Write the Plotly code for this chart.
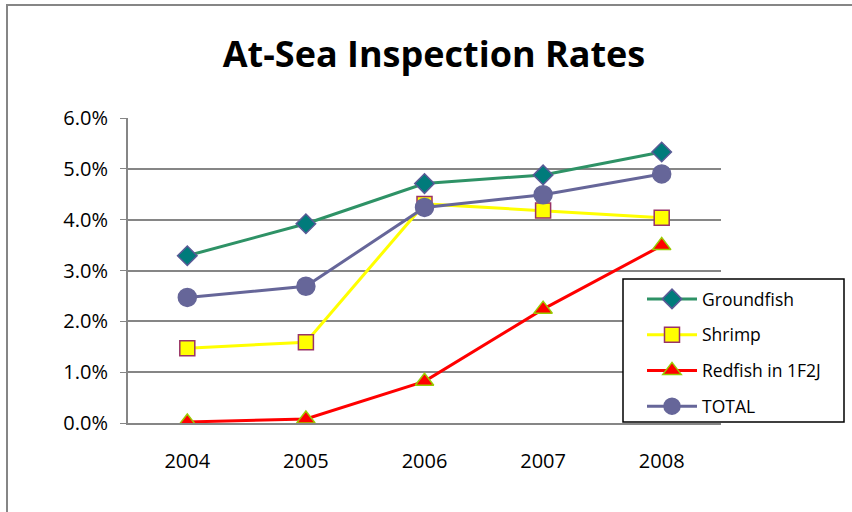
import plotly.graph_objects as go

years = ["2004", "2005", "2006", "2007", "2008"]
groundfish = [0.0329, 0.0392, 0.0471, 0.0488, 0.0533]
shrimp = [0.0147, 0.0159, 0.0431, 0.0418, 0.0404]
redfish = [0.0002, 0.0008, 0.0082, 0.0224, 0.0349]
total = [0.0247, 0.0269, 0.0424, 0.0449, 0.0490]
y_ticks = [0.0, 0.01, 0.02, 0.03, 0.04, 0.05, 0.06]

FONT = "Open Sans"
fig = go.Figure()

series = [
    ("Groundfish", groundfish, "#2E9266", "diamond", "#007B7B", "#5A5A96", 15),
    ("Shrimp", shrimp, "#FFFF00", "square", "#FFFF00", "#993366", 15),
    ("Redfish in 1F2J", redfish, "#FF0000", "triangle-up", "#FF0000", "#99CC00", 16),
    ("TOTAL", total, "#666699", "circle", "#666699", "#666699", 18),
]
for i, (name, vals, lc, sym, fc, oc, ms) in enumerate(series):
    fig.add_trace(go.Scatter(
        x=years, y=vals, name=name, mode="lines+markers",
        line=dict(color=lc, width=3),
        marker=dict(symbol=sym, size=ms, color=fc, line=dict(color=oc, width=1.5)),
        legendgroup=str(i),
    ))

L, T, PW, PH = 128, 118, 593, 305
def px(x):
    return (x - L) / PW
def py(y):
    return (T + PH - y) / PH

fig.update_layout(
    width=852, height=512,
    margin=dict(l=L, r=852 - L - PW, t=T, b=512 - T - PH),
    paper_bgcolor="white", plot_bgcolor="white",
    font=dict(family=FONT, size=17, color="#000000"),
    title=dict(text="<b>At-Sea Inspection Rates</b>", x=434/852, xanchor="center",
               y=1 - 54/512, yanchor="middle", font=dict(size=36, family=FONT, color="#000000")),
    showlegend=True,
    legend=dict(x=px(642), xanchor="left", y=py(281), yanchor="top",
                bgcolor="rgba(0,0,0,0)", borderwidth=0,
                font=dict(size=17.5, family=FONT), tracegroupgap=10,
                itemwidth=50),
)
fig.update_xaxes(type="category", range=[-0.5, 4.5], showgrid=False,
                 showline=True, linecolor="#868686", linewidth=2,
                 ticks="", ticklabelstandoff=19, tickfont=dict(size=20, family=FONT))
fig.update_yaxes(range=[0, 0.06], tickvals=y_ticks, tickformat=".1%",
                 showgrid=True, gridcolor="#868686", gridwidth=1.5,
                 showline=True, linecolor="#868686", linewidth=2,
                 ticks="outside", ticklen=6, tickcolor="#868686",
                 ticklabelstandoff=8, tickfont=dict(size=20, family=FONT), zeroline=False)

# legend box
fig.add_shape(type="rect", xref="paper", yref="paper",
              x0=px(623), x1=px(844), y0=py(422), y1=py(279),
              line=dict(color="#000000", width=1.5), fillcolor="white", layer="above")
# outer chart border (cropped at right and bottom)
fig.add_shape(type="rect", xref="paper", yref="paper",
              x0=px(7), x1=px(870), y0=py(540), y1=py(5),
              line=dict(color="#868686", width=2), fillcolor="rgba(0,0,0,0)", layer="below")

fig.write_html("out.html", config={"displayModeBar": False},
               post_script="document.body.style.margin='0';")
